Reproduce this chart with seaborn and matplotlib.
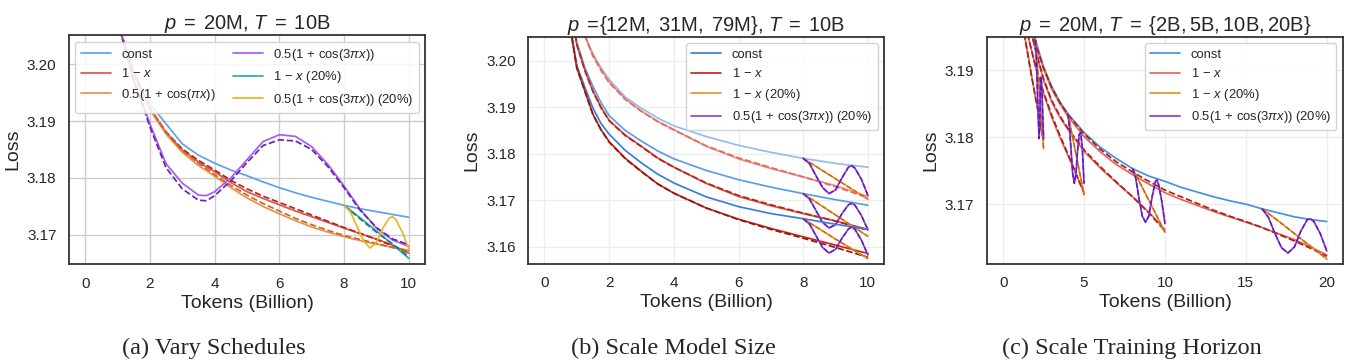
import matplotlib
matplotlib.use('Agg')
import matplotlib.pyplot as plt
import seaborn as sns

# ---------------------------------------------------------------- data (a)
XA = [1.0, 1.25, 1.5, 1.75, 2, 2.5, 3, 3.5, 4, 4.5, 5, 5.5, 6, 6.5, 7, 7.5, 8, 8.5, 9, 9.5, 10]
a_const = [3.2075, 3.2030, 3.1987, 3.1957, 3.1930, 3.1895, 3.1860, 3.1840, 3.1826, 3.1814, 3.1804,
           3.1793, 3.1783, 3.1774, 3.1766, 3.1759, 3.1752, 3.1746, 3.1741, 3.1736, 3.1731]
a_lin = [3.2075, 3.2028, 3.1984, 3.1952, 3.1922, 3.1880, 3.1849, 3.1828, 3.1811, 3.1792, 3.1776,
         3.1764, 3.1753, 3.1742, 3.1732, 3.1722, 3.1712, 3.1702, 3.1693, 3.1682, 3.1668]
a_lin_fit = [3.2075, 3.2028, 3.1984, 3.1951, 3.1922, 3.1881, 3.1851, 3.1831, 3.1814, 3.1796, 3.1781,
             3.1768, 3.1757, 3.1746, 3.1735, 3.1724, 3.1713, 3.1703, 3.1692, 3.1681, 3.1670]
a_cos = [3.2075, 3.2027, 3.1983, 3.1950, 3.1920, 3.1877, 3.1845, 3.1822, 3.1803, 3.1783, 3.1765,
         3.1750, 3.1737, 3.1725, 3.1714, 3.1705, 3.1697, 3.1690, 3.1684, 3.1678, 3.1673]
a_cos_fit = [3.2075, 3.2027, 3.1983, 3.1951, 3.1922, 3.1880, 3.1848, 3.1826, 3.1806, 3.1787, 3.1770,
             3.1755, 3.1742, 3.1729, 3.1718, 3.1708, 3.1699, 3.1692, 3.1685, 3.1678, 3.1672]
XA3 = [1.0, 1.25, 1.5, 1.75, 2, 2.5, 3, 3.5, 3.75, 4, 4.5, 5, 5.5, 6, 6.5, 7, 7.5, 8, 8.5, 9, 9.5, 10]
a_cos3 = [3.2075, 3.2025, 3.1972, 3.1935, 3.1895, 3.1825, 3.1791, 3.1770, 3.1769, 3.1776, 3.1800,
          3.1832, 3.1864, 3.1876, 3.1873, 3.1855, 3.1824, 3.1786, 3.1745, 3.1712, 3.1691, 3.1680]
a_cos3_fit = [3.2075, 3.2024, 3.1970, 3.1932, 3.1890, 3.1818, 3.1781, 3.1761, 3.1760, 3.1769, 3.1795,
              3.1827, 3.1857, 3.1867, 3.1865, 3.1850, 3.1820, 3.1783, 3.1743, 3.1713, 3.1693, 3.1683]
XA20 = [8, 8.5, 9, 9.5, 10]
a_lin20 = [3.1752, 3.1730, 3.1707, 3.1683, 3.1659]
a_lin20_fit = [3.1752, 3.1728, 3.1705, 3.1684, 3.1662]
XA20c = [8, 8.2, 8.4, 8.6, 8.8, 9.0, 9.2, 9.4, 9.5, 9.6, 9.8, 10]
a_cos20 = [3.1752, 3.1740, 3.1715, 3.1690, 3.1677, 3.1687, 3.1712, 3.1730, 3.1732, 3.1727, 3.1705, 3.1676]

# ---------------------------------------------------------------- data (b)
XB = [0.8, 1.0, 1.25, 1.5, 1.75, 2, 2.5, 3, 3.5, 4, 5, 6, 7, 8, 9, 10]
b_const = {
    '12M': [3.2250, 3.2150, 3.2055, 3.2015, 3.1985, 3.1960, 3.1922, 3.1898, 3.1877, 3.1860, 3.1837, 3.1818, 3.1803, 3.1790, 3.1779, 3.1771],
    '31M': [3.2120, 3.2040, 3.1985, 3.1945, 3.1910, 3.1882, 3.1850, 3.1827, 3.1806, 3.1789, 3.1764, 3.1744, 3.1728, 3.1714, 3.1701, 3.1689],
    '79M': [3.2075, 3.1990, 3.1943, 3.1898, 3.1865, 3.1842, 3.1807, 3.1780, 3.1756, 3.1737, 3.1707, 3.1686, 3.1671, 3.1660, 3.1648, 3.1637],
}
b_lin = {
    '12M': [3.2250, 3.2150, 3.2054, 3.2012, 3.1982, 3.1955, 3.1918, 3.1892, 3.1870, 3.1852, 3.1816, 3.1789, 3.1768, 3.1750, 3.1731, 3.1708],
    '31M': [3.2115, 3.2035, 3.1980, 3.1935, 3.1900, 3.1872, 3.1840, 3.1816, 3.1791, 3.1771, 3.1736, 3.1708, 3.1688, 3.1671, 3.1655, 3.1637],
    '79M': [3.2070, 3.1985, 3.1935, 3.1885, 3.1852, 3.1826, 3.1790, 3.1762, 3.1735, 3.1715, 3.1683, 3.1659, 3.1639, 3.1621, 3.1603, 3.1585],
}
b_lin_fit = {
    '12M': [3.2250, 3.2150, 3.2054, 3.2010, 3.1979, 3.1953, 3.1917, 3.1891, 3.1869, 3.1851, 3.1817, 3.1791, 3.1770, 3.1750, 3.1729, 3.1705],
    '31M': [3.2115, 3.2035, 3.1979, 3.1934, 3.1899, 3.1871, 3.1839, 3.1815, 3.1790, 3.1771, 3.1737, 3.1710, 3.1690, 3.1672, 3.1655, 3.1635],
    '79M': [3.2070, 3.1985, 3.1934, 3.1884, 3.1851, 3.1825, 3.1789, 3.1761, 3.1735, 3.1715, 3.1683, 3.1658, 3.1637, 3.1618, 3.1598, 3.1577],
}
XB20 = [8, 8.5, 9, 9.5, 10]
b_lin20 = {
    '12M': [3.1790, 3.1768, 3.1746, 3.1724, 3.1702],
    '31M': [3.1714, 3.1691, 3.1668, 3.1645, 3.1622],
    '79M': [3.1660, 3.1638, 3.1616, 3.1595, 3.1574],
}
XBc = [8.0, 8.2, 8.4, 8.6, 8.8, 9.0, 9.2, 9.4, 9.5, 9.6, 9.8, 10.0]
b_cos20 = {
    '12M': [3.1790, 3.1778, 3.1752, 3.1727, 3.1714, 3.1722, 3.1748, 3.1771, 3.1774, 3.1769, 3.1745, 3.1710],
    '31M': [3.1714, 3.1702, 3.1677, 3.1652, 3.1640, 3.1647, 3.1671, 3.1690, 3.1693, 3.1689, 3.1667, 3.1636],
    '79M': [3.1660, 3.1648, 3.1623, 3.1598, 3.1586, 3.1594, 3.1618, 3.1638, 3.1642, 3.1637, 3.1614, 3.1582],
}

# ---------------------------------------------------------------- data (c)
XC = [1.9, 2, 2.5, 3, 3.5, 4, 5, 6, 7, 8, 9, 10, 11, 12, 13, 14, 15, 16, 17, 18, 19, 20]
c_const = [3.1955, 3.1945, 3.1905, 3.1876, 3.1853, 3.1835, 3.1807, 3.1785, 3.1768, 3.1753, 3.1742,
           3.1734, 3.1725, 3.1718, 3.1711, 3.1705, 3.1700, 3.1693, 3.1687, 3.1681, 3.1677, 3.1674]
XC_lin = {
    2: [1.3, 1.5, 1.75, 2.0, 2.25, 2.5],
    5: [1.5, 2, 2.5, 3, 3.5, 4, 4.5, 5],
    10: [1.7, 2, 2.5, 3, 3.5, 4, 5, 6, 7, 8, 9, 10],
    20: [1.8, 2, 2.5, 3, 3.5, 4, 5, 6, 7, 8, 9, 10, 11, 12, 13, 14, 15, 16, 17, 18, 19, 20],
}
c_lin = {
    2: [3.1955, 3.1928, 3.1893, 3.1860, 3.1828, 3.1795],
    5: [3.1955, 3.1905, 3.1865, 3.1830, 3.1800, 3.1773, 3.1745, 3.1717],
    10: [3.1960, 3.1930, 3.1885, 3.1853, 3.1830, 3.1812, 3.1779, 3.1754, 3.1732, 3.1711, 3.1688, 3.1662],
    20: [3.1960, 3.1940, 3.1902, 3.1872, 3.1850, 3.1831, 3.1801, 3.1778, 3.1759, 3.1744, 3.1730,
         3.1717, 3.1707, 3.1698, 3.1689, 3.1681, 3.1673, 3.1665, 3.1656, 3.1647, 3.1636, 3.1624],
}
c_lin_fit = {
    2: [3.1955, 3.1927, 3.1892, 3.1859, 3.1827, 3.1793],
    5: [3.1955, 3.1906, 3.1867, 3.1833, 3.1803, 3.1775, 3.1746, 3.1716],
    10: [3.1960, 3.1931, 3.1887, 3.1855, 3.1832, 3.1813, 3.1781, 3.1756, 3.1733, 3.1711, 3.1687, 3.1660],
    20: [3.1960, 3.1940, 3.1903, 3.1874, 3.1852, 3.1834, 3.1805, 3.1782, 3.1763, 3.1748, 3.1734,
         3.1721, 3.1711, 3.1701, 3.1691, 3.1682, 3.1674, 3.1665, 3.1655, 3.1645, 3.1634, 3.1622],
}
XC_lin20 = {2: [2.0, 2.25, 2.5], 5: [4.0, 4.5, 5.0], 10: [8, 9, 10], 20: [16, 17, 18, 19, 20]}
c_lin20 = {
    2: [3.1945, 3.1864, 3.1783],
    5: [3.1835, 3.1775, 3.1714],
    10: [3.1753, 3.1706, 3.1658],
    20: [3.1693, 3.1675, 3.1656, 3.1637, 3.1618],
}
XC_cos20 = {
    2: [2.0, 2.08, 2.16, 2.22, 2.26, 2.3, 2.34, 2.38, 2.44, 2.5],
    5: [4.0, 4.1, 4.2, 4.3, 4.4, 4.5, 4.6, 4.7, 4.8, 4.9, 5.0],
    10: [8.0, 8.2, 8.4, 8.6, 8.8, 9.0, 9.2, 9.4, 9.5, 9.6, 9.8, 10],
    20: [16.0, 16.4, 16.8, 17.2, 17.6, 18.0, 18.4, 18.8, 19.0, 19.2, 19.6, 20.0],
}
c_cos20 = {
    2: [3.1945, 3.1900, 3.1835, 3.1798, 3.1815, 3.1868, 3.1890, 3.1880, 3.1840, 3.1798],
    5: [3.1835, 3.1815, 3.1780, 3.1745, 3.1731, 3.1745, 3.1780, 3.1804, 3.1807, 3.1780, 3.1731],
    10: [3.1753, 3.1738, 3.1708, 3.1682, 3.1673, 3.1682, 3.1710, 3.1733, 3.1736, 3.1730, 3.1705, 3.1671],
    20: [3.1693, 3.1680, 3.1656, 3.1635, 3.1627, 3.1636, 3.1660, 3.1677, 3.1678, 3.1674, 3.1656, 3.1630],
}

LBL_CONST = 'const'
LBL_LIN = r'$1\,-\,x$'
LBL_COS = r'$0.5(1\,+\,\cos(\pi x))$'
LBL_COS3 = r'$0.5(1\,+\,\cos(3\pi x))$'
LBL_LIN20 = r'$1\,-\,x$ (20%)'
LBL_COS20 = r'$0.5(1\,+\,\cos(3\pi x))$ (20%)'

# ---------------------------------------------------------------- style
sns.set_theme(style='whitegrid')
plt.rcParams['font.family'] = ['Liberation Sans', 'DejaVu Sans']
plt.rcParams['mathtext.fontset'] = 'custom'
plt.rcParams['mathtext.rm'] = 'Liberation Sans'
plt.rcParams['mathtext.it'] = 'Liberation Sans:italic'
plt.rcParams['mathtext.bf'] = 'Liberation Sans:bold'
LW = 1.25
LEG = dict(fontsize=9.4, handlelength=2.3, framealpha=0.85, edgecolor='0.8', borderaxespad=0.5)


def line(ax, x, y, color, dashed=False, label=None, lw=LW):
    sns.lineplot(x=x, y=y, ax=ax, color=color, lw=lw, ls='--' if dashed else '-',
                 label=label, errorbar=None, legend=False)


fig = plt.figure(figsize=(13.47, 3.64), dpi=100)
ax_a = fig.add_axes([0.0512, 0.2747, 0.2643, 0.6291])
ax_b = fig.add_axes([0.3922, 0.2755, 0.2641, 0.6236])
ax_c = fig.add_axes([0.7327, 0.2755, 0.2643, 0.6236])

# ---- (a) vary schedules
ax = ax_a
line(ax, XA, a_const, '#5BA2EE')
line(ax, XA, a_lin, '#E0544C')
line(ax, XA, a_lin_fit, '#B5261C', dashed=True)
line(ax, XA, a_cos, '#E8924E')
line(ax, XA, a_cos_fit, '#D2661E', dashed=True)
line(ax, XA3, a_cos3, '#A85CF0')
line(ax, XA3, a_cos3_fit, '#6624B0', dashed=True)
line(ax, XA20, a_lin20, '#2EABB0')
line(ax, XA20, a_lin20_fit, '#1A7D84', dashed=True)
line(ax, XA20c, a_cos20, '#EDB522')
ax.set_xlim(-0.5, 10.5); ax.set_ylim(3.1649, 3.2051)
ax.set_xticks([0, 2, 4, 6, 8, 10]); ax.set_yticks([3.17, 3.18, 3.19, 3.20])
ax.set_title(r'$p\;=\;20$M, $T\;=\;10$B', fontsize=14.5, pad=4)
ln = ax.lines
ax.legend(handles=[ln[0], ln[1], ln[3], ln[5], ln[7], ln[9]],
          labels=[LBL_CONST, LBL_LIN, LBL_COS, LBL_COS3, LBL_LIN20, LBL_COS20],
          loc='upper left', ncol=2, columnspacing=1.3, **LEG)

# ---- (b) scale model size
ax = ax_b
blues = {'12M': '#93BDF0', '31M': '#5E9CE8', '79M': '#3A7FD5'}
reds = {'12M': '#EE8E84', '31M': '#DE4A3E', '79M': '#C3281D'}
reds_fit = {'12M': '#E36A5F', '31M': '#B5261C', '79M': '#8E1A12'}
handles = []
for size in ['12M', '31M', '79M']:
    line(ax, XB, b_const[size], blues[size]); h_const = ax.lines[-1]
    line(ax, XB, b_lin[size], reds[size]); h_lin = ax.lines[-1]
    line(ax, XB, b_lin_fit[size], reds_fit[size], dashed=True)
    line(ax, XB20, b_lin20[size], '#F0922C'); h_lin20 = ax.lines[-1]
    line(ax, XB20, b_lin20[size], '#C96A14', dashed=True, lw=1.0)
    line(ax, XBc, b_cos20[size], '#9140E0'); h_cos20 = ax.lines[-1]
    line(ax, XBc, b_cos20[size], '#5E1CAA', dashed=True, lw=1.0)
    if size == '79M':
        handles = [h_const, h_lin, h_lin20, h_cos20]
ax.set_xlim(-0.5, 10.5); ax.set_ylim(3.1563, 3.2052)
ax.set_xticks([0, 2, 4, 6, 8, 10]); ax.set_yticks([3.16, 3.17, 3.18, 3.19, 3.20])
ax.set_title(r'$p\;=\!\{12\mathrm{M},\;31\mathrm{M},\;79\mathrm{M}\}$, $T\;=\;10$B', fontsize=14.5, pad=4)
ax.legend(handles=handles, labels=[LBL_CONST, LBL_LIN, LBL_LIN20, LBL_COS20], loc='upper right', **LEG)

# ---- (c) scale training horizon
ax = ax_c
line(ax, XC, c_const, '#4A90E2'); handles = [ax.lines[-1]]
for T in [2, 5, 10, 20]:
    line(ax, XC_lin[T], c_lin[T], '#E4665C')
    if T == 2:
        handles.append(ax.lines[-1])
    line(ax, XC_lin[T], c_lin_fit[T], '#A82218', dashed=True)
for T in [2, 5, 10, 20]:
    line(ax, XC_lin20[T], c_lin20[T], '#F0902A')
    if T == 2:
        handles.append(ax.lines[-1])
    line(ax, XC_lin20[T], c_lin20[T], '#C2640E', dashed=True, lw=1.0)
    line(ax, XC_cos20[T], c_cos20[T], '#8A3AE6')
    if T == 2:
        handles.append(ax.lines[-1])
    line(ax, XC_cos20[T], c_cos20[T], '#5E1CAA', dashed=True, lw=1.0)
ax.set_xlim(-1.0, 21.0); ax.set_ylim(3.1611, 3.1950)
ax.set_xticks([0, 5, 10, 15, 20]); ax.set_yticks([3.17, 3.18, 3.19])
ax.set_title(r'$p\;=\;20$M, $T\;=\;\{2\mathrm{B},5\mathrm{B},10\mathrm{B},20\mathrm{B}\}$', fontsize=14.5, pad=4)
ax.legend(handles=handles, labels=[LBL_CONST, LBL_LIN, LBL_LIN20, LBL_COS20], loc='upper right', **LEG)

# ---- shared cosmetics
for ax, gcol in [(ax_a, '#CCCCCC'), (ax_b, '#EDEDED'), (ax_c, '#EDEDED')]:
    ax.set_xlabel('Tokens (Billion)', fontsize=14, labelpad=3)
    ax.set_ylabel('Loss', fontsize=14, labelpad=4)
    ax.yaxis.set_major_formatter(matplotlib.ticker.FormatStrFormatter('%.2f'))
    ax.tick_params(labelsize=11, length=0, pad=9, colors='#262626')
    ax.grid(True, color=gcol, lw=1.0)
    ax.set_axisbelow(True)
    for sp in ax.spines.values():
        sp.set_edgecolor('#333333'); sp.set_linewidth(1.3)

for xpos, txt in [(0.159, '(a) Vary Schedules'), (0.4996, '(b) Scale Model Size'),
                  (0.8404, '(c) Scale Training Horizon')]:
    fig.text(xpos, 0.044, txt, ha='center', va='center', fontsize=17.5, family='Liberation Serif')

fig.savefig('out.png', dpi=100)
